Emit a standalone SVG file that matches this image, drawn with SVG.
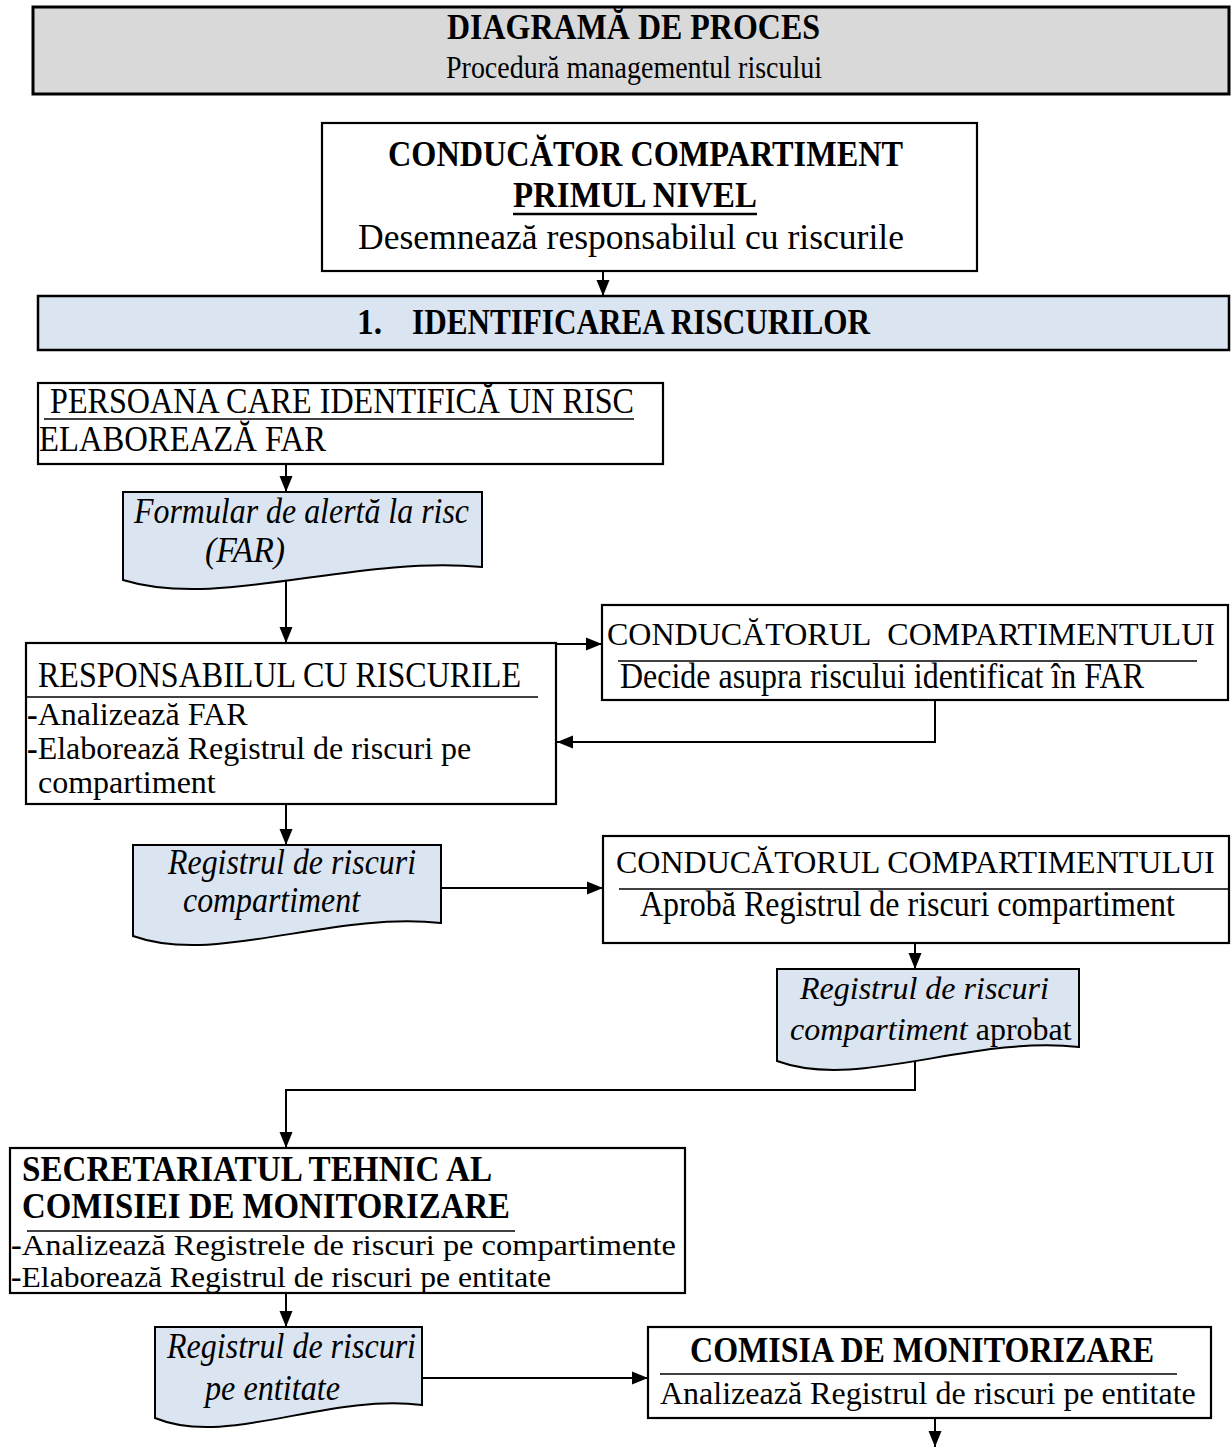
<svg xmlns="http://www.w3.org/2000/svg" width="1231" height="1449" viewBox="0 0 1231 1449">
<style>
.t{font-family:"Liberation Serif","Times New Roman",serif;font-size:35px;fill:#000}
.s{font-size:32px}
.b{font-weight:bold}
.i{font-style:italic}
.box{fill:#fff;stroke:#000;stroke-width:2.2}
.doc{fill:#dbe5f1;stroke:#000;stroke-width:2}
.rule{stroke:#000;stroke-width:1.6}
.con{fill:none;stroke:#000;stroke-width:2}
</style>
<defs>
<marker id="ah" markerWidth="16" markerHeight="14" refX="16" refY="7" orient="auto" markerUnits="userSpaceOnUse">
<path d="M0,0.5 L16,7 L0,13.5 Z" fill="#000"/>
</marker>
</defs>
<rect width="1231" height="1449" fill="#fff"/>

<g id="connectors">
<line class="con" x1="603" y1="271" x2="603" y2="296" marker-end="url(#ah)"/>
<line class="con" x1="286" y1="464" x2="286" y2="492" marker-end="url(#ah)"/>
<line class="con" x1="286" y1="575" x2="286" y2="643" marker-end="url(#ah)"/>
<line class="con" x1="556" y1="644" x2="602" y2="644" marker-end="url(#ah)"/>
<polyline class="con" points="935,700 935,742 557,742" marker-end="url(#ah)"/>
<line class="con" x1="286" y1="804" x2="286" y2="845" marker-end="url(#ah)"/>
<line class="con" x1="441" y1="888" x2="603" y2="888" marker-end="url(#ah)"/>
<line class="con" x1="915" y1="943" x2="915" y2="969" marker-end="url(#ah)"/>
<polyline class="con" points="915,1055 915,1090 286,1090 286,1148" marker-end="url(#ah)"/>
<line class="con" x1="286" y1="1293" x2="286" y2="1327" marker-end="url(#ah)"/>
<line class="con" x1="422" y1="1378" x2="648" y2="1378" marker-end="url(#ah)"/>
<line class="con" x1="935" y1="1418" x2="935" y2="1447" marker-end="url(#ah)"/>
</g>

<g id="header">
<rect x="33" y="7" width="1196" height="87" fill="#d9d9d9" stroke="#000" stroke-width="3"/>
<text class="t b" x="447" y="39" textLength="373" lengthAdjust="spacingAndGlyphs">DIAGRAMĂ DE PROCES</text>
<text class="t" x="446" y="78" style="font-size:31px" textLength="376" lengthAdjust="spacingAndGlyphs">Procedură managementul riscului</text>
</g>

<g id="conducator-primul-nivel">
<rect class="box" x="322" y="123" width="655" height="148"/>
<text class="t b" x="388" y="166" textLength="515" lengthAdjust="spacingAndGlyphs">CONDUCĂTOR COMPARTIMENT</text>
<text class="t b" x="513" y="207" textLength="244" lengthAdjust="spacingAndGlyphs">PRIMUL NIVEL</text>
<line x1="513" y1="214" x2="757" y2="214" stroke="#000" stroke-width="2.5"/>
<text class="t" x="358" y="249" textLength="546" lengthAdjust="spacingAndGlyphs">Desemnează responsabilul cu riscurile</text>
</g>

<g id="etapa-identificare">
<rect x="38" y="296" width="1191" height="54" fill="#dbe5f1" stroke="#000" stroke-width="2.5"/>
<text class="t b" x="357" y="334" textLength="25" lengthAdjust="spacingAndGlyphs">1.</text>
<text class="t b" x="412" y="334" textLength="458" lengthAdjust="spacingAndGlyphs">IDENTIFICAREA RISCURILOR</text>
</g>

<g id="persoana">
<rect class="box" x="38" y="383" width="625" height="81"/>
<text class="t" x="50" y="413" textLength="584" lengthAdjust="spacingAndGlyphs">PERSOANA CARE IDENTIFICĂ UN RISC</text>
<line class="rule" x1="44" y1="419" x2="634" y2="419"/>
<text class="t" x="39" y="451" textLength="287" lengthAdjust="spacingAndGlyphs">ELABOREAZĂ FAR</text>
</g>

<g id="doc-far">
<path class="doc" d="M123,492 H482 V567 C353,555 220,610 123,580 Z"/>
<text class="t i" x="134" y="523" textLength="335" lengthAdjust="spacingAndGlyphs">Formular de alertă la risc</text>
<text class="t i" x="205" y="562" textLength="80" lengthAdjust="spacingAndGlyphs">(FAR)</text>
</g>

<g id="responsabil">
<rect class="box" x="26" y="643" width="530" height="161"/>
<text class="t" x="38" y="687" textLength="483" lengthAdjust="spacingAndGlyphs">RESPONSABILUL CU RISCURILE</text>
<line class="rule" x1="26" y1="697" x2="538" y2="697"/>
<text class="t s" x="27" y="725"><tspan class="b">-</tspan>Analizează FAR</text>
<text class="t s" x="27" y="759"><tspan class="b">-</tspan>Elaborează Registrul de riscuri pe</text>
<text class="t s" x="38" y="793">compartiment</text>
</g>

<g id="conducator-decide">
<rect class="box" x="602" y="605" width="626" height="95"/>
<text class="t s" x="607" y="645">CONDUCĂTORUL&#160; COMPARTIMENTULUI</text>
<line class="rule" x1="618" y1="661" x2="1197" y2="661"/>
<text class="t" x="620" y="688" textLength="524" lengthAdjust="spacingAndGlyphs">Decide asupra riscului identificat în FAR</text>
</g>

<g id="doc-registru-compartiment">
<path class="doc" d="M133,845 H441 V923 C330,911 216,966 133,936 Z"/>
<text class="t i" x="168" y="874" textLength="248" lengthAdjust="spacingAndGlyphs">Registrul de riscuri</text>
<text class="t i" x="183" y="912" textLength="177" lengthAdjust="spacingAndGlyphs">compartiment</text>
</g>

<g id="conducator-aproba">
<rect class="box" x="603" y="836" width="626" height="107"/>
<text class="t s" x="616" y="873">CONDUCĂTORUL COMPARTIMENTULUI</text>
<line class="rule" x1="619" y1="889" x2="1229" y2="889"/>
<text class="t" x="640" y="916" textLength="535" lengthAdjust="spacingAndGlyphs">Aprobă Registrul de riscuri compartiment</text>
</g>

<g id="doc-registru-aprobat">
<path class="doc" d="M777,969 H1079 V1047 C970,1035 858,1091 777,1061 Z"/>
<text class="t s i" x="800" y="999">Registrul de riscuri</text>
<text class="t s" x="790" y="1040"><tspan class="i">compartiment</tspan> aprobat</text>
</g>

<g id="secretariat">
<rect class="box" x="10" y="1148" width="675" height="145"/>
<text class="t b" x="22" y="1181" textLength="470" lengthAdjust="spacingAndGlyphs">SECRETARIATUL TEHNIC AL</text>
<text class="t b" x="22" y="1218" textLength="488" lengthAdjust="spacingAndGlyphs">COMISIEI DE MONITORIZARE</text>
<line class="rule" x1="27" y1="1231" x2="515" y2="1231"/>
<text class="t" x="11" y="1255" style="font-size:30px" textLength="665" lengthAdjust="spacingAndGlyphs"><tspan class="b">-</tspan>Analizează Registrele de riscuri pe compartimente</text>
<text class="t" x="11" y="1287" style="font-size:30px" textLength="540" lengthAdjust="spacingAndGlyphs"><tspan class="b">-</tspan>Elaborează Registrul de riscuri pe entitate</text>
</g>

<g id="doc-registru-entitate">
<path class="doc" d="M155,1327 H422 V1405 C326,1393 227,1448 155,1418 Z"/>
<text class="t i" x="167" y="1358" textLength="249" lengthAdjust="spacingAndGlyphs">Registrul de riscuri</text>
<text class="t i" x="205" y="1400" textLength="135" lengthAdjust="spacingAndGlyphs">pe entitate</text>
</g>

<g id="comisia">
<rect class="box" x="648" y="1327" width="563" height="91"/>
<text class="t b" x="690" y="1362" textLength="464" lengthAdjust="spacingAndGlyphs">COMISIA DE MONITORIZARE</text>
<line class="rule" x1="660" y1="1374" x2="1177" y2="1374"/>
<text class="t s" x="660" y="1404">Analizează Registrul de riscuri pe entitate</text>
</g>
</svg>
